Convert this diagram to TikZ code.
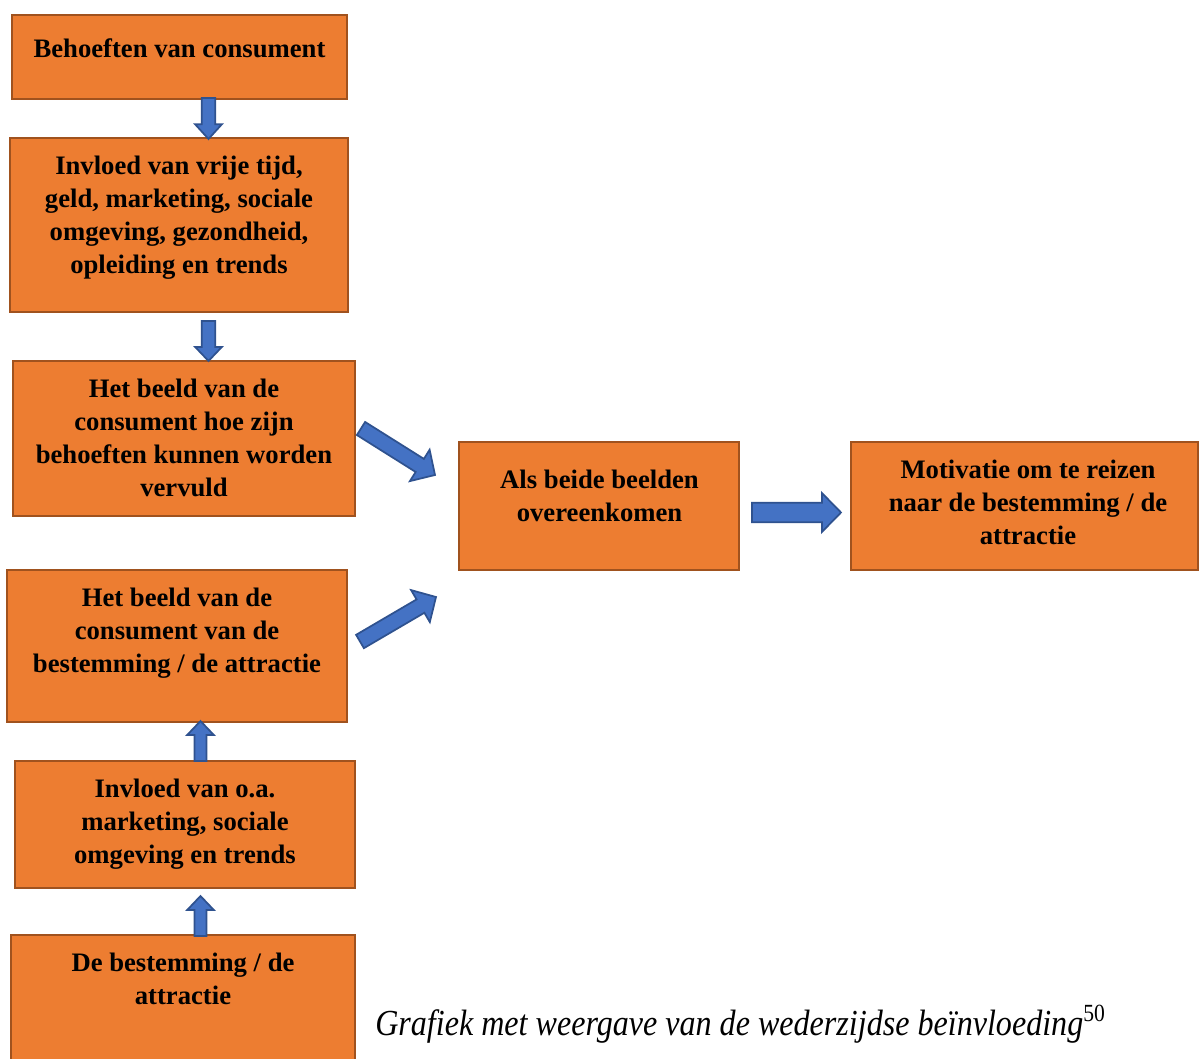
\documentclass[tikz,border=0pt]{standalone}
\usepackage{fontspec}
\setmainfont{Liberation Serif}
\usetikzlibrary{calc,fit}
\definecolor{boxfill}{HTML}{ED7D31}
\definecolor{boxline}{HTML}{A0521E}
\definecolor{arrfill}{HTML}{4472C4}
\definecolor{arrline}{HTML}{2F528F}
\tikzset{
  box/.style={draw=boxline, fill=boxfill, line width=1.5pt, inner sep=0pt, rectangle},
  txt/.style={font=\bfseries\fontsize{20}{24.6}\selectfont, align=center, inner sep=0pt, anchor=north},
  barrow/.style={draw=arrline, fill=arrfill, line width=1.3pt, line join=miter},
}
% tail, tip, shaft half width, head half width, head length
\newcommand\blockarrow[5]{%
  \coordinate (#1-hb) at ($(#2)!#5!(#1)$);
  \path[barrow] ($(#1)!#3!90:(#2)$) -- ($(#1-hb)!#3!90:(#2)$) -- ($(#1-hb)!#4!90:(#2)$) -- (#2)
    -- ($(#1-hb)!#4!-90:(#2)$) -- ($(#1-hb)!#3!-90:(#2)$) -- ($(#1)!#3!-90:(#2)$) -- cycle;
}
\begin{document}
\begin{tikzpicture}[x=0.75pt,y=-0.75pt]
\useasboundingbox (0,0) rectangle (1200,1059);
\clip (0,0) rectangle (1200,1059);
% boxes
\node[box, fit={(12,15) (347,99)}] (b1) {};
\node[box, fit={(10,138) (348,312)}] (b2) {};
\node[box, fit={(13,361) (355,516)}] (b3) {};
\node[box, fit={(459,442) (739,570)}] (b4) {};
\node[box, fit={(851,442) (1198,570)}] (b5) {};
\node[box, fit={(7,570) (347,722)}] (b6) {};
\node[box, fit={(15,761) (355,888)}] (b7) {};
\node[box, fit={(11,935) (355,1075)}] (b8) {};
% texts
\node[txt] (t1) at (179.5,38.5) {Behoeften van consument};
\node[txt] (t2) at (179,156) {Invloed van vrije tijd,\\geld, marketing, sociale\\omgeving, gezondheid,\\opleiding en trends};
\node[txt] (t3) at (184,379) {Het beeld van de\\consument hoe zijn\\behoeften kunnen worden\\vervuld};
\node[txt] (t4) at (599.5,470) {Als beide beelden\\overeenkomen};
\node[txt] (t5) at (1028,460) {Motivatie om te reizen\\naar de bestemming / de\\attractie};
\node[txt] (t6) at (177,588) {Het beeld van de\\consument van de\\bestemming / de attractie};
\node[txt] (t7) at (185,779) {Invloed van o.a.\\marketing, sociale\\omgeving en trends};
\node[txt] (t8) at (183,953) {De bestemming / de\\attractie};
% arrow end points
\coordinate (a1s) at (208.5,98);   \coordinate (a1e) at (208.5,139);
\coordinate (a2s) at (208.5,321);  \coordinate (a2e) at (208.5,361);
\coordinate (a3s) at (361,428.5);  \coordinate (a3e) at (435,475);
\coordinate (a4s) at (360,641.5);  \coordinate (a4e) at (436,597);
\coordinate (a5s) at (200.5,761);  \coordinate (a5e) at (200.5,721);
\coordinate (a6s) at (200.5,936);  \coordinate (a6e) at (200.5,896);
\coordinate (a7s) at (752,512.5);  \coordinate (a7e) at (841,512.5);
\blockarrow{a1s}{a1e}{5pt}{10pt}{11pt}
\blockarrow{a2s}{a2e}{5pt}{10pt}{10.5pt}
\blockarrow{a3s}{a3e}{5.8pt}{13.9pt}{13.5pt}
\blockarrow{a4s}{a4e}{5.8pt}{13.9pt}{13.5pt}
\blockarrow{a5s}{a5e}{4.5pt}{10pt}{10.5pt}
\blockarrow{a6s}{a6e}{4.5pt}{10pt}{10.5pt}
\blockarrow{a7s}{a7e}{7.3pt}{14.6pt}{14.3pt}
% caption
\node[anchor=base west, inner sep=0pt] (cap) at (375,1035)
  {\scalebox{0.875}[1]{\itshape\fontsize{27.5}{30}\selectfont Grafiek met weergave van de wederzijdse beïnvloeding\raisebox{10.5pt}{\upshape\fontsize{18.5}{20}\selectfont 50}}};
\end{tikzpicture}
\end{document}
